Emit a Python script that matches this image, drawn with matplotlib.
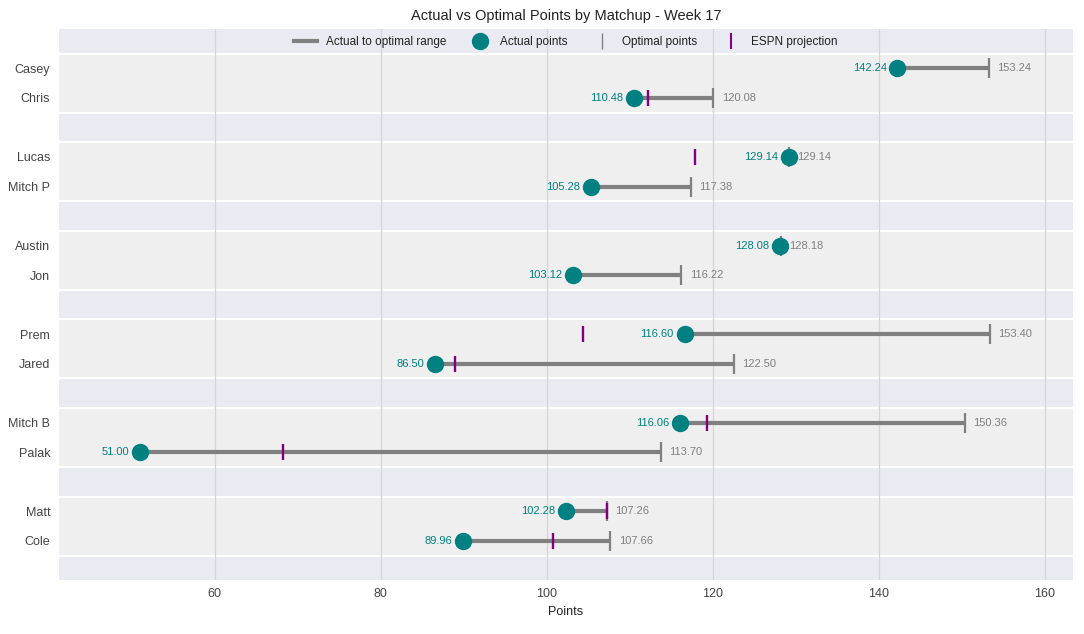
import numpy as np
import matplotlib
matplotlib.use("Agg")
import matplotlib.pyplot as plt
from matplotlib.lines import Line2D

plt.rcParams['font.family'] = ['Liberation Sans', 'DejaVu Sans']

# rows from top to bottom, grouped into matchups of two
teams = ["Casey", "Chris", "Lucas", "Mitch P", "Austin", "Jon",
         "Prem", "Jared", "Mitch B", "Palak", "Matt", "Cole"]
actual = [142.24, 110.48, 129.14, 105.28, 128.08, 103.12,
          116.60, 86.50, 116.06, 51.00, 102.28, 89.96]
optimal = [153.24, 120.08, 129.14, 117.38, 128.18, 116.22,
           153.40, 122.50, 150.36, 113.70, 107.26, 107.66]
# projections hidden behind the actual-points dot are left out
espn = [np.nan, 112.2, 117.9, np.nan, np.nan, np.nan,
        104.4, 89.0, 119.3, 68.2, 107.2, 100.8]

teal = "#008080"
gray = "#808080"
purple = "#800080"

fig, ax = plt.subplots(figsize=(10.84, 6.34), dpi=100)
ax.set_facecolor("#eaeaf2")
for s in ax.spines.values():
    s.set_visible(False)

ypos = []
for i in range(len(teams)):
    ypos.append((i // 2) * 3 + (i % 2))
ypos = np.array(ypos)

# matchup bands
for m in range(len(teams) // 2):
    ax.axhspan(m * 3 - 0.5, m * 3 + 1.5, facecolor="#efefef",
               edgecolor="none", zorder=0)
    for edge in (m * 3 - 0.5, m * 3 + 1.5):
        ax.axhline(edge, color="white", linewidth=1.5, zorder=0.2)

ax.grid(axis="x", color="#d5d5d5", linewidth=0.9, zorder=0.5)
ax.grid(axis="y", visible=False)
ax.set_axisbelow(True)

for y, a, o, p in zip(ypos, actual, optimal, espn):
    ax.plot([a, o], [y, y], color=gray, linewidth=3, zorder=2,
            solid_capstyle="butt")
    ax.plot(o, y, marker="|", color=gray, markersize=14, mew=1.6, zorder=3)
    if not np.isnan(p):
        ax.plot(p, y, marker="|", color=purple, markersize=11, mew=1.7, zorder=4)
    ax.plot(a, y, "o", color=teal, markersize=11.5, zorder=5)
    ax.text(a - 1.3, y, f"{a:.2f}", color=teal, fontsize=8,
            ha="right", va="center", zorder=6)
    ax.text(o + 1.0, y, f"{o:.2f}", color=gray, fontsize=8,
            ha="left", va="center", zorder=6)

ax.set_yticks(ypos)
ax.set_yticklabels(teams)
ax.set_ylim(ypos.max() + 1.33, -1.35)
ax.set_xlim(41.2, 163.4)
ax.set_xticks([60, 80, 100, 120, 140, 160])
ax.tick_params(length=0, labelsize=9, labelcolor="#444444", pad=6)
ax.set_xlabel("Points", fontsize=9, color="#222222")
ax.set_title("Actual vs Optimal Points by Matchup - Week 17", fontsize=10.5,
             color="#222222")

handles = [
    Line2D([], [], color=gray, linewidth=3),
    Line2D([], [], linestyle="none", marker="o", color=teal, markersize=11.5),
    Line2D([], [], linestyle="none", marker="|", color=gray, markersize=11, mew=1),
    Line2D([], [], linestyle="none", marker="|", color=purple, markersize=11, mew=1.5),
]
labels = ["Actual to optimal range", "Actual points", "Optimal points", "ESPN projection"]
leg = ax.legend(handles, labels, loc="upper center", ncol=4, frameon=False,
                fontsize=8.5, bbox_to_anchor=(0.5, 1.005), columnspacing=1.9,
                handletextpad=0.7)
for t in leg.get_texts():
    t.set_color("#222222")

fig.subplots_adjust(left=0.054, right=0.99, top=0.955, bottom=0.085)
fig.savefig("out.png", dpi=100)
